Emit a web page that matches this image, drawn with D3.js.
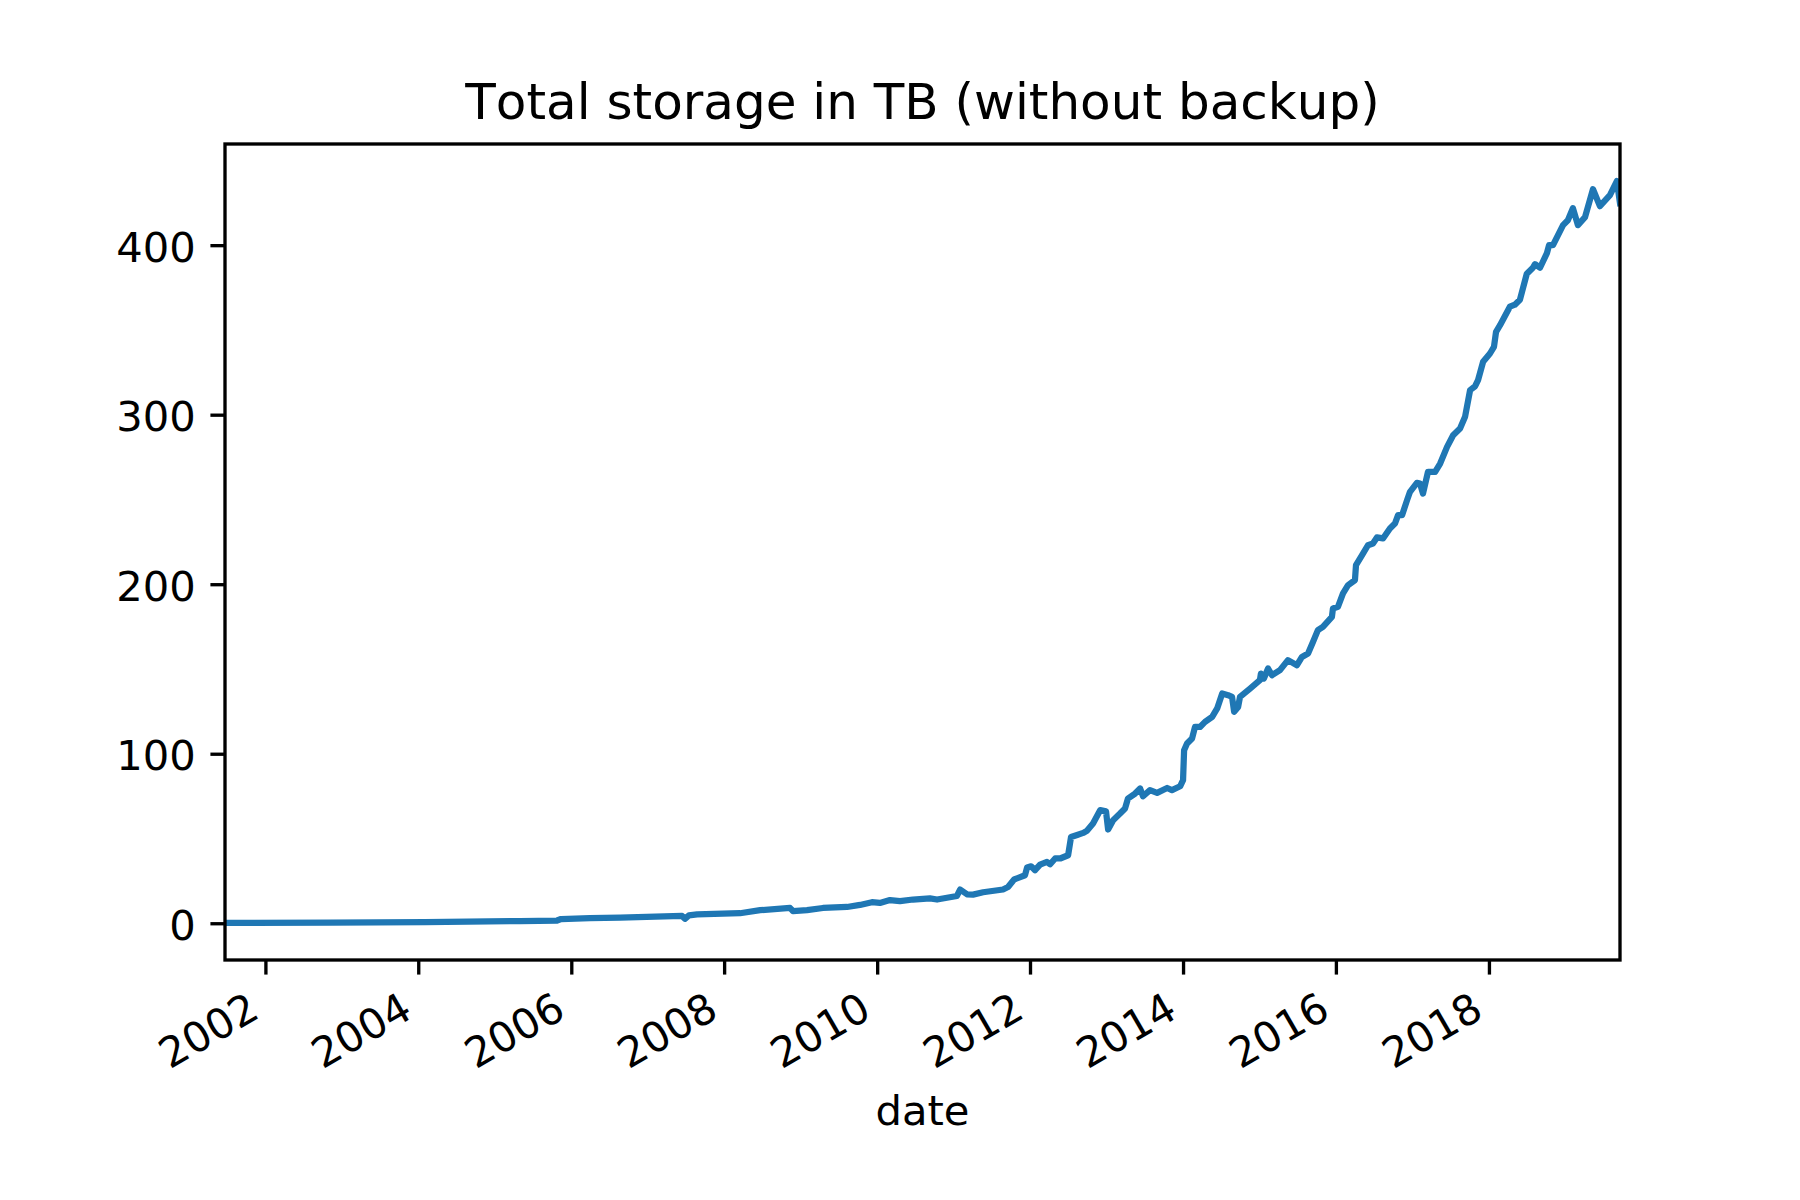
<!DOCTYPE html>
<html>
<head>
<meta charset="utf-8">
<script src="https://cdn.jsdelivr.net/npm/d3@7"></script>
<style>
  html, body { margin: 0; padding: 0; background: #ffffff; }
  svg { display: block; }
  text { font-family: "DejaVu Sans", sans-serif; fill: #000; font-kerning: none; }
</style>
</head>
<body>
<svg id="chart" width="1800" height="1200"></svg>
<script>
// ---- data ----
const dates = [
  "2001-06-22","2002-11-06","2004-02-03","2005-05-01","2005-10-25","2005-11-13","2006-03-31","2006-08-22",
  "2007-06-14","2007-06-28","2007-07-17","2007-08-25","2008-03-17","2008-06-21","2008-11-11","2008-11-25",
  "2009-01-31","2009-04-17","2009-08-10","2009-10-11","2009-12-07","2010-01-14","2010-03-03","2010-04-20",
  "2010-06-21","2010-09-10","2010-10-14","2011-01-17","2011-02-01","2011-03-06","2011-04-04","2011-05-22",
  "2011-08-25","2011-09-18","2011-10-17","2011-12-08","2011-12-18","2012-01-06","2012-01-25","2012-02-18",
  "2012-03-22","2012-04-06","2012-04-30","2012-05-24","2012-07-01","2012-07-15","2012-08-13","2012-09-11",
  "2012-09-29","2012-10-28","2012-12-01","2012-12-29","2013-01-08","2013-02-01","2013-03-06","2013-03-30",
  "2013-04-13","2013-05-17","2013-06-10","2013-06-24","2013-07-27","2013-08-30","2013-10-17","2013-11-09",
  "2013-12-18","2014-01-01","2014-01-06","2014-01-20","2014-02-13","2014-02-27","2014-03-23","2014-04-16",
  "2014-05-20","2014-06-13","2014-07-07","2014-08-04","2014-08-23","2014-09-02","2014-09-21","2014-09-30",
  "2014-11-17","2015-01-03","2015-01-08","2015-01-22","2015-02-11","2015-03-02","2015-04-09","2015-05-17",
  "2015-06-29","2015-07-23","2015-08-21","2015-09-14","2015-10-07","2015-10-31","2015-12-13","2015-12-18",
  "2016-01-11","2016-02-04","2016-02-28","2016-04-01","2016-04-06","2016-05-05","2016-06-02","2016-06-26",
  "2016-07-15","2016-08-13","2016-09-15","2016-10-09","2016-10-24","2016-11-12","2016-12-06","2016-12-20",
  "2017-01-22","2017-02-06","2017-02-20","2017-03-16","2017-04-19","2017-05-13","2017-06-15","2017-07-14",
  "2017-08-16","2017-09-09","2017-10-03","2017-10-27","2017-11-10","2017-12-04","2018-01-06","2018-01-25",
  "2018-02-04","2018-02-23","2018-04-11","2018-05-05","2018-05-29","2018-07-01","2018-07-30","2018-08-09",
  "2018-09-02","2018-10-05","2018-10-15","2018-11-03","2018-12-21","2019-01-13","2019-02-06","2019-03-02",
  "2019-04-05","2019-05-13","2019-06-15","2019-08-02","2019-09-04","2019-09-19"
];
const storageTB = [
  0.2, 0.3, 0.7, 1.3, 1.6, 2.5, 3.0, 3.3,
  4.3, 2.6, 4.6, 5.2, 5.9, 7.7, 9.0, 7.1,
  7.7, 9.0, 9.6, 10.8, 12.4, 12.0, 13.7, 13.0,
  14.0, 14.7, 14.0, 16.1, 19.9, 17.1, 16.9, 18.3,
  19.9, 21.4, 25.8, 28.3, 32.9, 33.6, 31.3, 34.6,
  36.2, 34.8, 38.2, 38.2, 40.1, 50.9, 52.1, 53.3,
  54.5, 58.8, 66.7, 66.0, 55.3, 60.8, 64.7, 67.7,
  73.6, 76.5, 79.5, 74.9, 78.5, 76.9, 79.8, 78.5,
  80.8, 84.4, 102.1, 106.0, 109.0, 115.8, 115.8, 118.8,
  121.7, 126.7, 135.5, 134.5, 133.5, 124.7, 127.6, 133.5,
  138.4, 143.4, 147.3, 144.4, 150.3, 146.3, 149.3, 155.2,
  152.2, 157.1, 159.1, 166.0, 172.9, 174.8, 180.7, 185.7,
  186.7, 194.6, 199.4, 202.4, 211.2, 217.1, 223.0, 224.0,
  227.6, 227.0, 232.9, 235.8, 240.7, 240.7, 249.6, 254.5,
  259.8, 259.4, 253.5, 266.3, 266.3, 271.2, 281.0, 287.9,
  291.9, 298.8, 314.5, 316.8, 320.4, 331.2, 336.1, 340.0,
  348.9, 352.8, 363.7, 364.9, 367.8, 383.2, 386.7, 388.8,
  386.7, 395.3, 400.0, 400.0, 411.8, 414.7, 421.8, 411.8,
  416.5, 433.0, 423.0, 429.5, 437.8, 424.8
];
const xTickYears = ["2002","2004","2006","2008","2010","2012","2014","2016","2018"];
const yTickValues = [0, 100, 200, 300, 400];
const titleText = "Total storage in TB (without backup)";
const xLabelText = "date";

// ---- layout ----
const W = 1800, H = 1200;
const axL = 225, axR = 1620, axT = 144, axB = 960;
const fs = 41.667;           // 10pt at 300 dpi
const tickLen = 14.583;      // 3.5pt
const tickPad = 14.583;
const lw = 3.333;            // 0.8pt

const parse = d3.utcParse("%Y-%m-%d");
const data = dates.map((d, i) => ({ date: parse(d), value: storageTB[i] }));

const x = d3.scaleUtc()
  .domain(d3.extent(data, d => d.date))
  .range([axL, axR]);

const [ymin, ymax] = d3.extent(data, d => d.value);
const ypad = (ymax - ymin) * 0.05;
const y = d3.scaleLinear()
  .domain([ymin - ypad, ymax + ypad])
  .range([axB, axT]);

const svg = d3.select("#chart");
svg.append("rect").attr("width", W).attr("height", H).attr("fill", "#fff");

svg.append("defs").append("clipPath").attr("id", "clip")
  .append("rect").attr("x", axL).attr("y", axT)
  .attr("width", axR - axL).attr("height", axB - axT);

// line
const line = d3.line().x(d => x(d.date)).y(d => y(d.value));
svg.append("path")
  .datum(data)
  .attr("clip-path", "url(#clip)")
  .attr("fill", "none")
  .attr("stroke", "#1f77b4")
  .attr("stroke-width", 6.25)
  .attr("stroke-linejoin", "round")
  .attr("stroke-linecap", "square")
  .attr("d", line);

// y axis
const yAxis = d3.axisLeft(y).tickValues(yTickValues).tickSize(tickLen).tickPadding(tickPad).tickFormat(d3.format("d"));
const gy = svg.append("g").attr("transform", `translate(${axL},0)`).call(yAxis);
gy.select(".domain").remove();
gy.selectAll(".tick line").attr("stroke", "#000").attr("stroke-width", lw);
gy.selectAll(".tick text")
  .attr("font-family", "DejaVu Sans")
  .attr("font-size", fs)
  .attr("fill", "#000")
  .attr("dy", "0.38em");

// x axis
const xTicks = xTickYears.map(s => parse(s + "-01-01"));
const xAxis = d3.axisBottom(x).tickValues(xTicks).tickSize(tickLen).tickPadding(tickPad).tickFormat(d3.utcFormat("%Y"));
const gx = svg.append("g").attr("transform", `translate(0,${axB})`).call(xAxis);
gx.select(".domain").remove();
gx.selectAll(".tick line").attr("stroke", "#000").attr("stroke-width", lw);
const lx = -4.35, ly = 56.6;
gx.selectAll(".tick text")
  .attr("font-family", "DejaVu Sans")
  .attr("font-size", fs)
  .attr("fill", "#000")
  .attr("text-anchor", "end")
  .attr("x", lx)
  .attr("y", ly)
  .attr("dy", 0)
  .attr("transform", `rotate(-30, ${lx}, ${ly})`);

// frame (spines)
svg.append("rect")
  .attr("x", axL).attr("y", axT)
  .attr("width", axR - axL).attr("height", axB - axT)
  .attr("fill", "none").attr("stroke", "#000").attr("stroke-width", lw)
  .attr("stroke-linejoin", "miter");

// title
svg.append("text")
  .attr("x", (axL + axR) / 2).attr("y", axT - 25)
  .attr("text-anchor", "middle")
  .attr("font-family", "DejaVu Sans")
  .attr("font-size", 50)
  .text(titleText);

// x label
svg.append("text")
  .attr("x", (axL + axR) / 2).attr("y", 1125.4)
  .attr("text-anchor", "middle")
  .attr("font-family", "DejaVu Sans")
  .attr("font-size", fs)
  .text(xLabelText);
</script>
</body>
</html>
